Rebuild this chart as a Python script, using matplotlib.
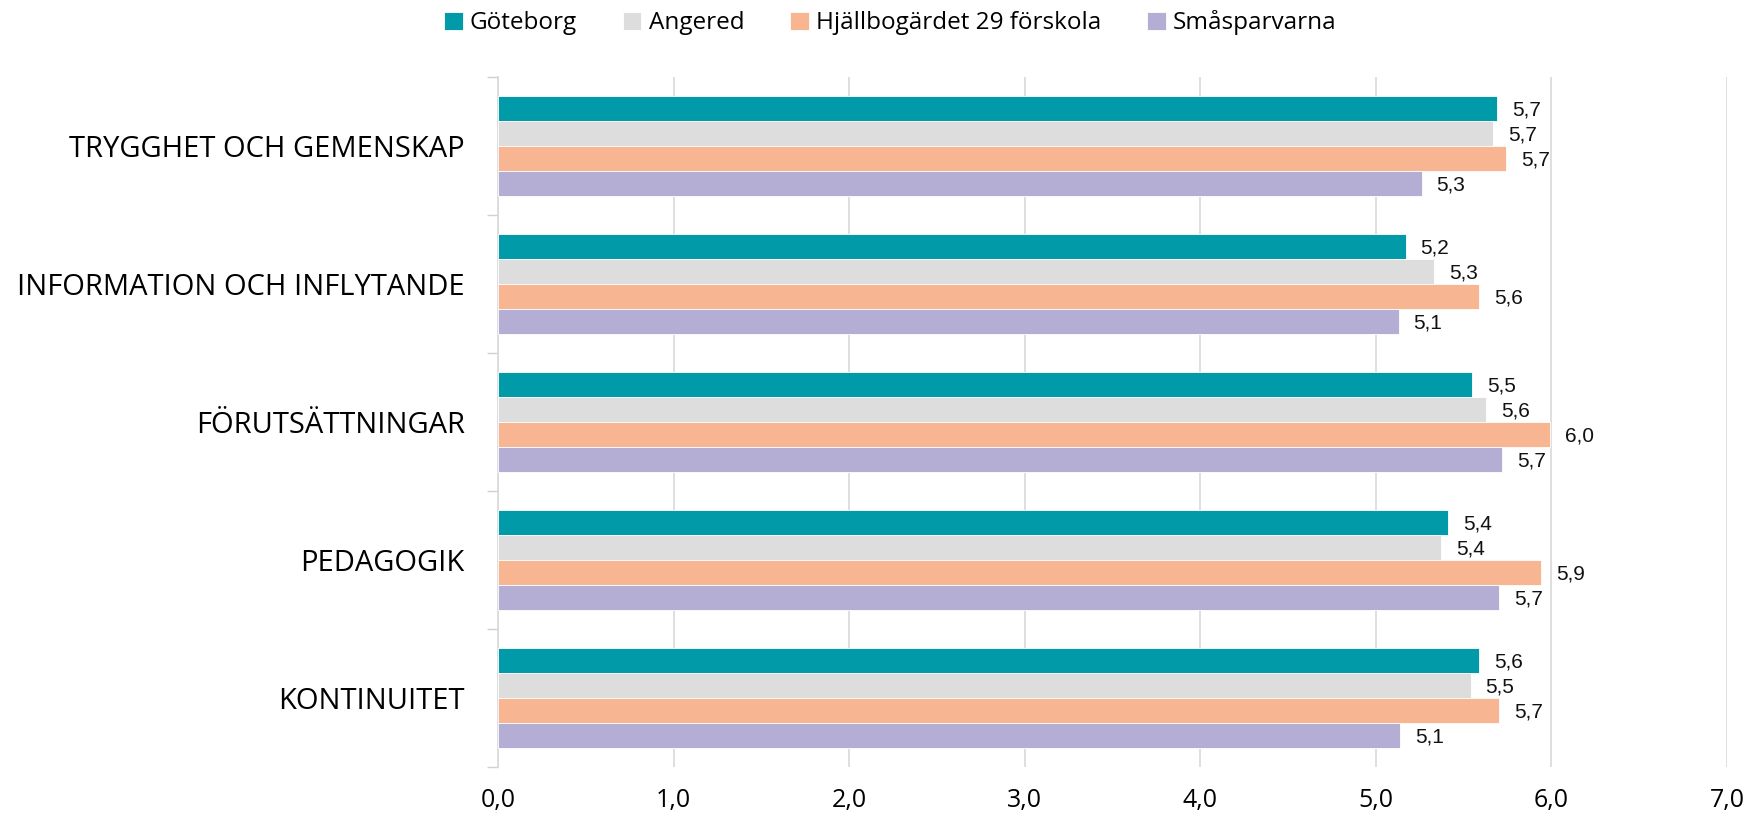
import numpy as np
import matplotlib.pyplot as plt

categories = ["TRYGGHET OCH GEMENSKAP", "INFORMATION OCH INFLYTANDE",
              "FÖRUTSÄTTNINGAR", "PEDAGOGIK", "KONTINUITET"]
series = ["Göteborg", "Angered", "Hjällbogärdet 29 förskola", "Småsparvarna"]
goteborg = [5.69, 5.17, 5.55, 5.41, 5.59]
angered = [5.67, 5.33, 5.63, 5.37, 5.54]
hjallbo = [5.74, 5.59, 5.99, 5.94, 5.70]
smasparvarna = [5.26, 5.13, 5.72, 5.70, 5.14]
colors = ["#009AA9", "#DDDDDD", "#F8B591", "#B4AED4"]
xticks = [0, 1, 2, 3, 4, 5, 6, 7]

values = [goteborg, angered, hjallbo, smasparvarna]

fig = plt.figure(figsize=(17.46, 8.14), dpi=100)
ax = fig.add_axes([498 / 1746, 1 - 767 / 814, (1727 - 498) / 1746, 690 / 814])

y = np.arange(len(categories))
h = 0.182
for i, (name, vals, c) in enumerate(zip(series, values, colors)):
    pos = y - 1.5 * h + i * h
    bars = ax.barh(pos, vals, height=h, color=c, label=name, zorder=3,
                   edgecolor="white", linewidth=0.6)
    for b, v in zip(bars, vals):
        ax.text(v + 0.085, b.get_y() + b.get_height() / 2 + 0.012,
                f"{v:.1f}".replace(".", ","), va="center", ha="left",
                fontsize=15, family="Liberation Sans", color="#111111")

ax.set_xlim(0, 7)
ax.set_ylim(len(categories) - 0.5, -0.5)
ax.set_xticks(xticks)
ax.set_xticklabels([f"{t:.1f}".replace(".", ",") for t in xticks],
                   fontsize=18, family="Open Sans")
ax.tick_params(axis="x", length=0, pad=15)
ax.set_yticks(y)
ax.set_yticklabels(categories, fontsize=21, family="Open Sans")
ax.tick_params(axis="y", which="major", length=0, pad=24)
ax.set_yticks(np.arange(len(categories) + 1) - 0.5, minor=True)
ax.tick_params(axis="y", which="minor", length=8, color="#D0D0D0", width=1)
ax.grid(axis="x", color="#D9D9D9", linewidth=1.2, zorder=0)
for s in ["top", "right", "bottom"]:
    ax.spines[s].set_visible(False)
ax.spines["left"].set_color("#D9D9D9")
ax.spines["left"].set_linewidth(1.2)

fig.legend(loc="center", bbox_to_anchor=(0.51, 0.972), ncol=4, frameon=False,
           prop={"family": "Open Sans", "size": 17.5},
           handlelength=0.75, handleheight=0.75, handletextpad=0.3,
           columnspacing=1.9)

fig.savefig("out.png", dpi=100)
